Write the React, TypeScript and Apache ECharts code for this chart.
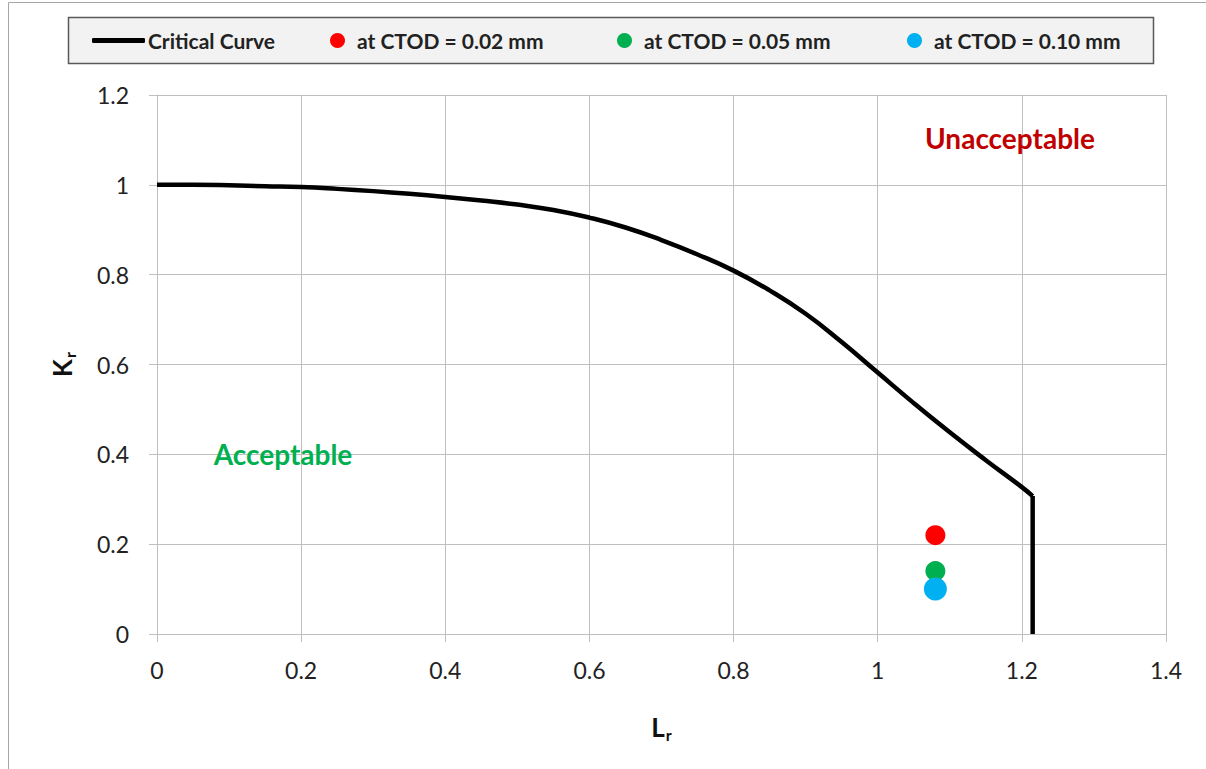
import React, { useEffect, useRef } from "react";
import * as echarts from "echarts";

const curveLr = [0, 0.05, 0.1, 0.15, 0.2, 0.25, 0.3, 0.35, 0.4, 0.45, 0.5, 0.55, 0.6, 0.65, 0.7, 0.75, 0.8, 0.85, 0.9, 0.95, 1.0, 1.05, 1.1, 1.15, 1.2, 1.215];
const curveKr = [1.0, 1.0, 0.999, 0.997, 0.995, 0.991, 0.986, 0.98, 0.973, 0.965, 0.956, 0.944, 0.927, 0.905, 0.877, 0.845, 0.809, 0.765, 0.713, 0.65, 0.582, 0.514, 0.449, 0.387, 0.327, 0.307];
const cutoffLr = [1.215, 1.215];
const cutoffKr = [0.307, 0];

const pointNames = ["at CTOD = 0.02 mm", "at CTOD = 0.05 mm", "at CTOD = 0.10 mm"];
const pointLr = [1.08, 1.08, 1.08];
const pointKr = [0.22, 0.14, 0.1];
const pointColors = ["#ff0000", "#00b050", "#00b0f0"];
const pointSizes = [20, 20, 23];

const FONT = "Lato, 'Noto Sans', sans-serif";

export default function App() {
  const ref = useRef<HTMLDivElement>(null);
  useEffect(() => {
    document.body.style.margin = "0";
    if (!ref.current) return;
    const chart = echarts.init(ref.current, undefined, { renderer: "svg" });
    const grid = "#bfbfbf";
    const legendText = { fontFamily: FONT, fontSize: 21, fontWeight: "bold" as const, color: "#222", lineHeight: 20 };
    const legendLefts = [330, 617, 907];
    const option: any = {
      animation: false,
      textStyle: { fontFamily: FONT },
      grid: { left: 157, right: 40, top: 95, bottom: 135, containLabel: false },
      graphic: [
        { type: "rect", z: -10, shape: { x: 8.5, y: 2.5, width: 1400, height: 1000 }, style: { fill: "#fff", stroke: "#a6a6a6", lineWidth: 1 } },
        { type: "rect", z: 0, shape: { x: 68.5, y: 17.5, width: 1085, height: 46 }, style: { fill: "#f2f2f2", stroke: "#595959", lineWidth: 1.5 } },
        { type: "text", z: 10, x: 1010, y: 138, style: { text: "Unacceptable", fill: "#c00000", font: `bold 28px ${FONT}`, textAlign: "center", textVerticalAlign: "middle" } },
        { type: "text", z: 10, x: 283, y: 454, style: { text: "Acceptable", fill: "#00b050", font: `bold 28px ${FONT}`, textAlign: "center", textVerticalAlign: "middle" } },
      ],
      legend: [
        {
          left: 92, top: 30, padding: 0, itemWidth: 53, itemHeight: 5, icon: "roundRect",
          data: ["Critical Curve"], textStyle: { ...legendText, padding: [0, 0, 0, -2] }, selectedMode: false, z: 5,
        },
        ...pointNames.map((n, i) => ({
          left: legendLefts[i], top: 30, padding: 0, itemWidth: 15, itemHeight: 15, icon: "circle",
          data: [n], textStyle: { ...legendText, padding: [0, 0, 0, 7] }, selectedMode: false, z: 5,
        })),
      ],
      xAxis: {
        type: "value", min: 0, max: 1.4, interval: 0.2,
        name: "{a|L}{b|r}", nameLocation: "middle", nameGap: 78,
        nameTextStyle: {
          rich: {
            a: { fontFamily: FONT, fontSize: 26, fontWeight: "bold", color: "#111" },
            b: { fontFamily: FONT, fontSize: 16, fontWeight: "bold", color: "#111", padding: [14, 0, 0, 1] },
          },
        },
        axisLine: { lineStyle: { color: grid, width: 1 } },
        axisTick: { show: true, length: 8, inside: false, lineStyle: { color: grid } },
        axisLabel: { fontFamily: FONT, fontSize: 23, color: "#222", margin: 24 },
        splitLine: { show: true, lineStyle: { color: grid, width: 1 } },
      },
      yAxis: {
        type: "value", min: 0, max: 1.2, interval: 0.2,
        name: "{a|K}{b|r}", nameLocation: "middle", nameGap: 80,
        nameTextStyle: {
          rich: {
            a: { fontFamily: FONT, fontSize: 26, fontWeight: "bold", color: "#111" },
            b: { fontFamily: FONT, fontSize: 16, fontWeight: "bold", color: "#111", padding: [14, 0, 0, 1] },
          },
        },
        axisLine: { show: true, lineStyle: { color: grid, width: 1 } },
        axisTick: { show: true, length: 8, inside: false, lineStyle: { color: grid } },
        axisLabel: { fontFamily: FONT, fontSize: 23, color: "#222", margin: 28 },
        splitLine: { show: true, lineStyle: { color: grid, width: 1 } },
      },
      series: [
        {
          name: "Critical Curve", type: "line", showSymbol: false, symbol: "none", smooth: 0.5,
          data: curveLr.map((x, i) => [x, curveKr[i]]),
          lineStyle: { color: "#000", width: 4.5, join: "round" }, itemStyle: { color: "#000" },
          z: 3,
        },
        {
          name: "Critical Curve", type: "line", showSymbol: false, symbol: "none",
          data: cutoffLr.map((x, i) => [x, cutoffKr[i]]),
          lineStyle: { color: "#000", width: 4.5, join: "round" }, itemStyle: { color: "#000" },
          z: 3,
        },
        ...pointNames.map((n, i) => ({
          name: n, type: "scatter", symbol: "circle", symbolSize: pointSizes[i],
          data: [[pointLr[i], pointKr[i]]],
          itemStyle: { color: pointColors[i], opacity: 1 }, z: 4 + i,
        })),
      ],
    };
    chart.setOption(option);
    return () => chart.dispose();
  }, []);
  return <div ref={ref} style={{ width: 1206, height: 769 }} />;
}
